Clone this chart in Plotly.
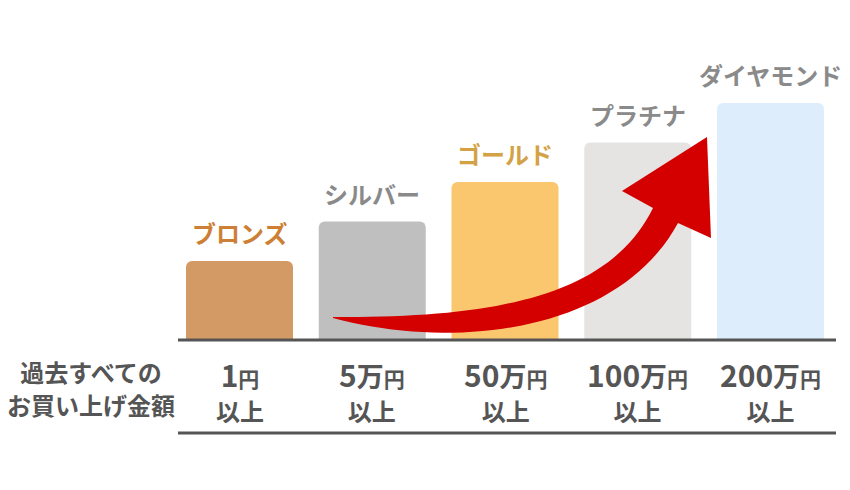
import plotly.graph_objects as go

# ---- data ----
tiers = ["ブロンズ", "シルバー", "ゴールド", "プラチナ", "ダイヤモンド"]
bar_heights = [2, 3, 4, 5, 6]
amount_num = ["1", "5", "50", "100", "200"]
amount_unit = ["", "万", "万", "万", "万"]
amount_suffix = "円"
amount_line2 = "以上"
row_title = ["過去すべての", "お買い上げ金額"]

bar_colors = ["#D49A66", "#BFBFBF", "#FAC76E", "#E5E4E2", "#DDEDFC"]
label_colors = ["#CD7F36", "#8A8A8A", "#D4A246", "#8A8A8A", "#8A8A8A"]
text_gray = "#555555"
line_color = "#555555"
arrow_color = "#D40000"
FONT = "Noto Sans CJK JP"

OFF = 8  # page body margin
W, H = 842, 482
ML, MR, MT, MB = 170, 14, 32, 150
X_RANGE = [-0.4633, 4.4934]
Y_RANGE = [0, 300 / 39.5]

plot_w = W - ML - MR
plot_h = H - MT - MB


def px2x(px):
    return X_RANGE[0] + (px - OFF - ML) / plot_w * (X_RANGE[1] - X_RANGE[0])


def px2y(py):
    return Y_RANGE[0] + (H - MB - (py - OFF)) / plot_h * (Y_RANGE[1] - Y_RANGE[0])


def cubic(p0, p1, p2, p3, n=40):
    pts = []
    for i in range(n + 1):
        t = i / n
        a, b, c, d = (1 - t) ** 3, 3 * t * (1 - t) ** 2, 3 * t * t * (1 - t), t ** 3
        pts.append((a * p0[0] + b * p1[0] + c * p2[0] + d * p3[0],
                    a * p0[1] + b * p1[1] + c * p2[1] + d * p3[1]))
    return pts


# arrow outline (decoration), screen pixel estimates -> axis coords
upper = cubic((333, 317), (500, 318), (610, 295), (653, 208))
lower = cubic((333, 318), (460, 352), (620, 330), (678, 223))
head = [(622, 191), (707, 137), (711, 238)]
outline = upper + head + lower[::-1]
path = "M " + " L ".join(f"{px2x(x):.4f},{px2y(y):.4f}" for x, y in outline) + " Z"

xs = list(range(len(tiers)))

fig = go.Figure()
fig.add_trace(go.Bar(
    x=xs, y=bar_heights, width=0.806,
    marker=dict(color=bar_colors, line=dict(width=0)),
    hoverinfo="skip",
))

line2_y = -(433 - 340) / plot_h
shapes = [
    dict(type="path", path=path, xref="x", yref="y",
         fillcolor=arrow_color, line=dict(width=0), layer="above"),
    dict(type="line", xref="paper", yref="paper", x0=0, x1=1, y0=0, y1=0,
         line=dict(color=line_color, width=3)),
    dict(type="line", xref="paper", yref="paper", x0=0, x1=1, y0=line2_y, y1=line2_y,
         line=dict(color=line_color, width=3)),
]

annotations = []
for i, (name, h, c) in enumerate(zip(tiers, bar_heights, label_colors)):
    annotations.append(dict(
        x=i, y=h, xref="x", yref="y", text=f"<b>{name}</b>",
        showarrow=False, yanchor="bottom", yshift=9,
        font=dict(family=FONT, size=24, color=c)))
    label = (f"<b><span style='font-size:30px'>{amount_num[i]}</span>"
             f"<span style='font-size:27px'>{amount_unit[i]}</span>"
             f"<span style='font-size:21px'>{amount_suffix}</span></b><br>"
             f"<b><span style='font-size:24px'>{amount_line2}</span></b>")
    annotations.append(dict(
        x=i, y=0, xref="x", yref="paper", text=label,
        showarrow=False, yanchor="middle", yshift=-50, borderpad=0,
        font=dict(family=FONT, size=26, color=text_gray)))

title_text = "<br>".join(f"<b><span style='font-size:24px'>{t}</span></b>" for t in row_title)
annotations.append(dict(
    x=(91 - OFF - ML) / plot_w, y=0, xref="paper", yref="paper", text=title_text,
    showarrow=False, xanchor="center", yanchor="middle", yshift=-48, borderpad=0,
    font=dict(family=FONT, size=25.4, color=text_gray)))

fig.update_layout(
    width=W, height=H,
    margin=dict(l=ML, r=MR, t=MT, b=MB),
    paper_bgcolor="white", plot_bgcolor="white",
    showlegend=False, barcornerradius=6,
    xaxis=dict(range=X_RANGE, visible=False, fixedrange=True),
    yaxis=dict(range=Y_RANGE, visible=False, fixedrange=True),
    shapes=shapes, annotations=annotations,
)

fig.write_html("out.html", config={"displayModeBar": False})
